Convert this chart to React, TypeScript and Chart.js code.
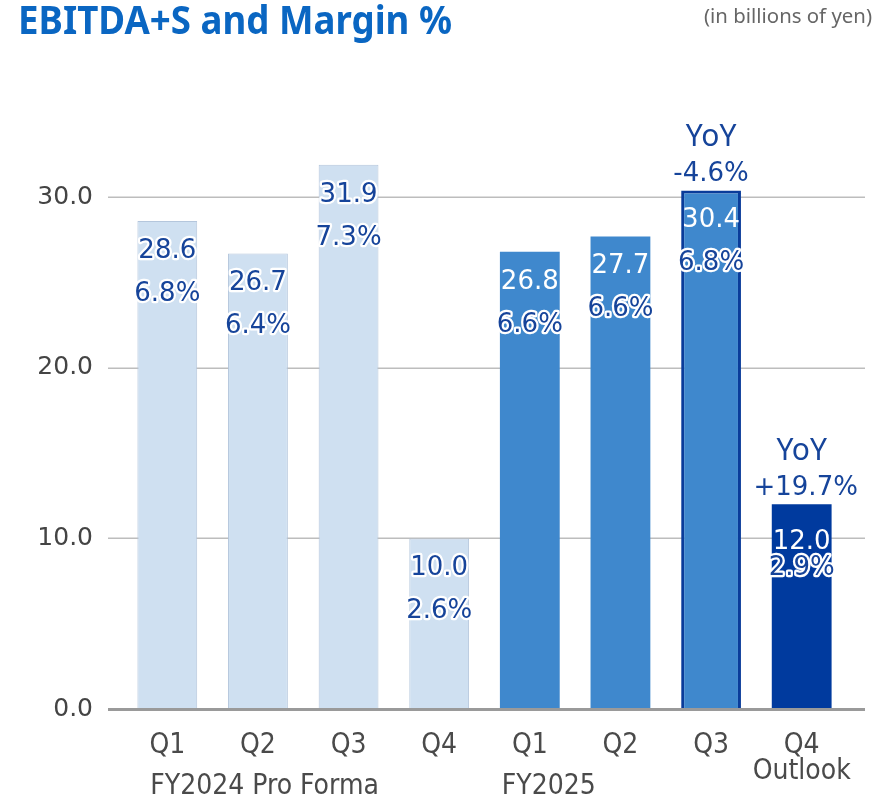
import React, { useEffect, useRef } from 'react';
import { Chart, registerables } from 'chart.js';
Chart.register(...registerables);

const quarterLabels: string[][] = [['Q1'], ['Q2'], ['Q3'], ['Q4'], ['Q1'], ['Q2'], ['Q3'], ['Q4', 'Outlook']];
const ebitdaValues = [28.6, 26.7, 31.9, 10.0, 26.8, 27.7, 30.4, 12.0];
const marginLabels = ['6.8%', '6.4%', '7.3%', '2.6%', '6.6%', '6.6%', '6.8%', '2.9%'];
const yoyLabels: (string | null)[] = [null, null, null, null, null, null, '-4.6%', '+19.7%'];
const groupLabels = ['FY2024 Pro Forma', 'FY2025'];
const groupStartIndex = [0, 4];
const yTickValues = [0, 10, 20, 30];

const TITLE = 'EBITDA+S and Margin %';
const UNIT = '(in billions of yen)';

const LIGHT = '#cfe0f1';
const MEDIUM = '#3f88cd';
const DARK = '#003a9e';
const TEXT_BLUE = '#16449a';
const VALUE_FONT = '26px "DejaVu Sans", Verdana, sans-serif';
const AXIS_FONT_FAMILY = '"DejaVu Sans Condensed", "Roboto", sans-serif';

const barFill = ['light', 'light', 'light', 'light', 'medium', 'medium', 'medium', 'dark'];

const fillFor = (k: string) => (k === 'light' ? LIGHT : k === 'medium' ? MEDIUM : DARK);

function haloText(ctx: CanvasRenderingContext2D, text: string, x: number, y: number, color: string, halo: boolean) {
  if (halo) {
    ctx.lineWidth = 4.5;
    ctx.lineJoin = 'round';
    ctx.strokeStyle = '#ffffff';
    ctx.strokeText(text, x, y);
  }
  ctx.fillStyle = color;
  ctx.fillText(text, x, y);
}

function fitText(ctx: CanvasRenderingContext2D, text: string, x: number, y: number, width: number, align: 'left' | 'right') {
  const w = ctx.measureText(text).width;
  const s = width / w;
  ctx.save();
  ctx.translate(x, y);
  ctx.scale(s, 1);
  ctx.textAlign = align;
  ctx.fillText(text, 0, 0);
  ctx.restore();
}

const decorPlugin = {
  id: 'decor',
  beforeDatasetsDraw(chart: any) {
    const ctx: CanvasRenderingContext2D = chart.ctx;
    const y = chart.scales.y;
    ctx.save();
    ctx.strokeStyle = '#bdbdbd';
    ctx.lineWidth = 1.5;
    yTickValues.forEach((v) => {
      if (v === 0) return;
      const py = Math.round(y.getPixelForValue(v)) + 0.25;
      ctx.beginPath();
      ctx.moveTo(108, py);
      ctx.lineTo(865, py);
      ctx.stroke();
    });
    ctx.restore();
  },
  afterDatasetsDraw(chart: any) {
    const ctx: CanvasRenderingContext2D = chart.ctx;
    const y = chart.scales.y;
    const x = chart.scales.x;
    ctx.save();
    ctx.strokeStyle = '#9a9a9a';
    ctx.lineWidth = 3;
    const by = y.getPixelForValue(0) + 0.5;
    ctx.beginPath();
    ctx.moveTo(108, by);
    ctx.lineTo(865, by);
    ctx.stroke();

    const meta = chart.getDatasetMeta(0);
    ctx.textAlign = 'center';
    ctx.textBaseline = 'middle';
    meta.data.forEach((bar: any, i: number) => {
      const bx = bar.x;
      const top = bar.y;
      const light = barFill[i] === 'light';
      const outlook = i === ebitdaValues.length - 1;
      ctx.font = VALUE_FONT;
      haloText(ctx, ebitdaValues[i].toFixed(1), bx, top + (outlook ? 38 : 30), light ? TEXT_BLUE : '#ffffff', light);
      haloText(ctx, marginLabels[i], bx, top + (outlook ? 64 : 73), TEXT_BLUE, true);
      const yy = yoyLabels[i];
      if (yy) {
        ctx.font = '30px "Noto Sans", "Open Sans", sans-serif';
        ctx.fillStyle = TEXT_BLUE;
        ctx.fillText('YoY', bx, top - 53);
        ctx.font = VALUE_FONT;
        haloText(ctx, yy, bx + (outlook ? 4 : 0), top - 16, TEXT_BLUE, true);
      }
    });

    ctx.font = '28px ' + AXIS_FONT_FAMILY;
    ctx.fillStyle = '#4a4a4a';
    ctx.textAlign = 'left';
    ctx.textBaseline = 'middle';
    const offs = [-17, -28];
    groupLabels.forEach((g, k) => {
      ctx.fillText(g, x.getPixelForValue(groupStartIndex[k]) + offs[k], 787);
    });
    ctx.restore();
  },
  afterDraw(chart: any) {
    const ctx: CanvasRenderingContext2D = chart.ctx;
    ctx.save();
    ctx.textBaseline = 'alphabetic';
    ctx.fillStyle = '#0a66c2';
    ctx.font = 'bold 39px "Noto Sans", "Open Sans", sans-serif';
    fitText(ctx, TITLE, 18, 34, 434, 'left');
    ctx.fillStyle = '#666666';
    ctx.font = '20px "Noto Sans", "Open Sans", sans-serif';
    fitText(ctx, UNIT, 872, 23, 168, 'right');
    ctx.restore();
  },
};

export default function App() {
  const ref = useRef<HTMLCanvasElement | null>(null);
  useEffect(() => {
    if (!ref.current) return;
    const chart = new Chart(ref.current, {
      type: 'bar',
      data: {
        labels: quarterLabels,
        datasets: [
          {
            data: ebitdaValues,
            backgroundColor: barFill.map(fillFor),
            borderColor: barFill.map((k, i) => (i === 6 ? '#0a3c9a' : k === 'light' ? '#b4c6dc' : fillFor(k))),
            borderWidth: barFill.map((k, i) => (i === 6 ? 3 : k === 'light' ? 1 : 0)),
            barPercentage: 0.66,
            categoryPercentage: 1,
          },
        ],
      },
      options: {
        responsive: false,
        animation: false,
        devicePixelRatio: 1,
        layout: { padding: { top: 129, right: 42, left: 0, bottom: 0 } },
        plugins: { legend: { display: false }, tooltip: { enabled: false }, title: { display: false } },
        scales: {
          x: {
            grid: { display: false },
            border: { display: false },
            ticks: {
              color: '#4a4a4a',
              font: { size: 28, family: AXIS_FONT_FAMILY, lineHeight: 0.93 },
              padding: 16,
              maxRotation: 0,
              autoSkip: false,
            },
            afterFit: (s: any) => {
              s.height = 91;
            },
          },
          y: {
            min: 0,
            max: 34,
            grid: { display: false },
            border: { display: false },
            afterBuildTicks: (s: any) => {
              s.ticks = yTickValues.map((v) => ({ value: v }));
            },
            ticks: {
              color: '#444444',
              font: { size: 25, family: '"DejaVu Sans", Verdana, sans-serif' },
              padding: 21,
              callback: (v: any) => Number(v).toFixed(1),
            },
            afterFit: (s: any) => {
              s.width = 122;
            },
          },
        },
      },
      plugins: [decorPlugin],
    });
    return () => chart.destroy();
  }, []);
  return (
    <div style={{ position: 'fixed', left: 0, top: 0, width: 889, height: 800, background: '#fff' }}>
      <canvas ref={ref} width={889} height={800} style={{ width: 889, height: 800, display: 'block' }} />
    </div>
  );
}
